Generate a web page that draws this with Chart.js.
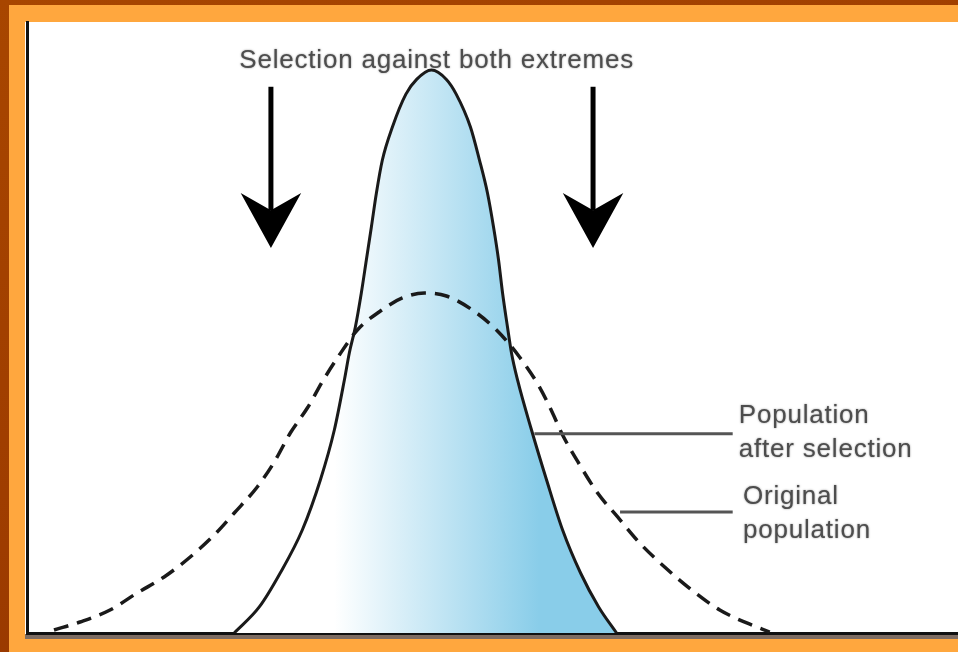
<!DOCTYPE html>
<html>
<head>
<meta charset="utf-8">
<script src="https://cdn.jsdelivr.net/npm/chart.js@4.4.1/dist/chart.umd.min.js"></script>
<style>
  body { margin: 0; width: 958px; height: 652px; overflow: hidden; position: relative;
         background: linear-gradient(160deg, #a84600 0%, #9e3c00 55%, #8c3200 100%); }
  #frame { position: absolute; left: 9px; top: 5px; right: 0; bottom: 0; background: #ffa73e; }
  #panel { position: absolute; left: 25px; top: 22px; right: 0; height: 612px; background: #fff; }
  #shade { position: absolute; left: 25px; top: 634px; right: 0; height: 5px; background: #7d6c62; }
  #pressureChart { position: absolute; left: 0; top: 0; }
</style>
</head>
<body>
<div id="frame"></div>
<div id="panel"></div>
<div id="shade"></div>
<canvas id="pressureChart" width="958" height="652"></canvas>
<script>
// trait value (x) and frequency (y)
const afterX = [22.26, 24.95, 27.2, 29.57, 31.51, 33.01, 34.09, 34.62, 35.27, 35.91, 36.45, 36.99, 37.53, 38.17,
                39.25, 40.7, 41.85, 43.44, 45.05, 46.1, 47.63, 48.6, 49.46, 50.11, 50.65, 51.08,
                51.61, 52.04, 52.69, 54.19, 55.81, 57.53, 59.46, 61.4, 63.33];
const afterY = [0, 4.26, 9.82, 16.86, 25.04, 33.22, 41.41, 45.83, 50.08, 55.65, 61.05, 66.45, 72.01, 77.41,
                82.82, 88.2, 90.6, 92.14, 90.6, 88.2, 82.82, 77.41, 72.01, 66.45, 61.05, 55.65,
                50.08, 45.83, 41.41, 33.22, 25.04, 16.86, 9.82, 4.26, 0];

const originalX = [2.9, 5.7, 8.92, 11.83, 14.73, 17.53, 20.11, 22.26, 24.73, 26.56, 28.28, 30.11, 31.83, 33.55,
                   35.48, 37.96, 40.32, 42.69, 45.05, 47.85, 50.43, 52.9, 55.05, 56.45, 57.53, 59.25, 61.29,
                   63.44, 65.81, 68.49, 71.4, 74.41, 77.31, 79.78];
const originalY = [0.49, 1.8, 3.76, 6.55, 9.17, 12.44, 16.04, 19.64, 23.9, 27.99, 32.73, 36.82, 41.41, 45.5,
                   49.59, 52.7, 54.83, 55.65, 55.16, 52.86, 49.59, 45.17, 40.26, 36.01, 32.41, 27.82, 22.91,
                   18.99, 14.73, 10.8, 7.04, 3.76, 1.64, 0.16];

const titleText = "Selection against both extremes";
const titleAt = [44.0, 93.6];
const arrowX = [26.2, 60.8];
const arrowY = [89.4, 72.0, 69.2, 63.0]; // shaft top, wing, notch, tip
const arrowHalf = 3.25;

const labelLines = [["Population", "after selection"], ["Original", "population"]];
const labelAt = [[76.45, 35.5], [76.9, 22.3]];
const leaderY = [32.6, 19.8];
const leaderFrom = [54.5, 63.7];
const leaderTo = 75.8;

const fadeFrom = 33.0;
const fadeTo = 55.0;

const toPoints = (xs, ys) => xs.map((x, i) => ({ x: x, y: ys[i] }));

const notes = {
  id: "notes",
  afterDatasetsDraw(chart) {
    const { ctx, scales } = chart;
    const px = (v) => scales.x.getPixelForValue(v);
    const py = (v) => scales.y.getPixelForValue(v);
    ctx.save();

    // arrows
    ctx.fillStyle = "#000";
    ctx.strokeStyle = "#000";
    arrowX.forEach((ax) => {
      ctx.lineWidth = 5;
      ctx.beginPath();
      ctx.moveTo(px(ax), py(arrowY[0]));
      ctx.lineTo(px(ax), py(arrowY[2]));
      ctx.stroke();
      ctx.beginPath();
      ctx.moveTo(px(ax - arrowHalf), py(arrowY[1]));
      ctx.lineTo(px(ax), py(arrowY[2]));
      ctx.lineTo(px(ax + arrowHalf), py(arrowY[1]));
      ctx.lineTo(px(ax), py(arrowY[3]));
      ctx.closePath();
      ctx.fill();
    });

    // leader lines
    ctx.strokeStyle = "#555";
    ctx.lineWidth = 3;
    leaderY.forEach((ly, i) => {
      ctx.beginPath();
      ctx.moveTo(px(leaderFrom[i]), py(ly));
      ctx.lineTo(px(leaderTo), py(ly));
      ctx.stroke();
    });

    // texts
    ctx.fillStyle = "#4d4d4d";
    ctx.font = "26px 'Liberation Sans', Arial, sans-serif";
    ctx.letterSpacing = "0.8px";
    ctx.textBaseline = "middle";
    ctx.shadowColor = "rgba(70,70,70,0.6)";
    ctx.shadowBlur = 2;
    ctx.textAlign = "center";
    ctx.fillText(titleText, px(titleAt[0]), py(titleAt[1]));
    ctx.textAlign = "left";
    labelLines.forEach((lines, i) => {
      lines.forEach((t, j) => {
        ctx.fillText(t, px(labelAt[i][0]), py(labelAt[i][1]) + j * 34);
      });
    });
    ctx.restore();
  }
};

function createSelectionChart() {
  const data = {
    datasets: [
      {
        label: "Original population",
        data: toPoints(originalX, originalY),
        borderColor: "#1a1a1a",
        borderWidth: 3.5,
        borderDash: [15, 9],
        fill: false,
        pointRadius: 0,
        cubicInterpolationMode: "monotone",
        order: 1,
      },
      {
        label: "Population after selection",
        data: toPoints(afterX, afterY),
        borderColor: "#1a1a1a",
        borderWidth: 3,
        fill: "origin",
        backgroundColor: (context) => {
          const chart = context.chart;
          if (!chart.chartArea) return "#89cde9";
          const g = chart.ctx.createLinearGradient(
            chart.scales.x.getPixelForValue(fadeFrom), 0,
            chart.scales.x.getPixelForValue(fadeTo), 0);
          g.addColorStop(0, "#ffffff");
          g.addColorStop(1, "#89cde9");
          return g;
        },
        pointRadius: 0,
        cubicInterpolationMode: "monotone",
        order: 2,
      },
    ],
  };

  const axis = {
    type: "linear",
    min: 0,
    max: 100,
    ticks: { display: false },
    grid: { display: false, drawTicks: false },
    border: { display: true, color: "#111", width: 3 },
  };

  const config = {
    type: "line",
    data: data,
    options: {
      responsive: false,
      animation: false,
      devicePixelRatio: 1,
      layout: { padding: { left: 27, top: 22, right: 0, bottom: 19 } },
      scales: { x: axis, y: axis },
      plugins: {
        legend: { display: false },
        tooltip: { enabled: false },
      },
    },
    plugins: [notes],
  };

  new Chart(document.getElementById("pressureChart"), config);
}

document.addEventListener("DOMContentLoaded", () => {
  createSelectionChart();
});
</script>
</body>
</html>
